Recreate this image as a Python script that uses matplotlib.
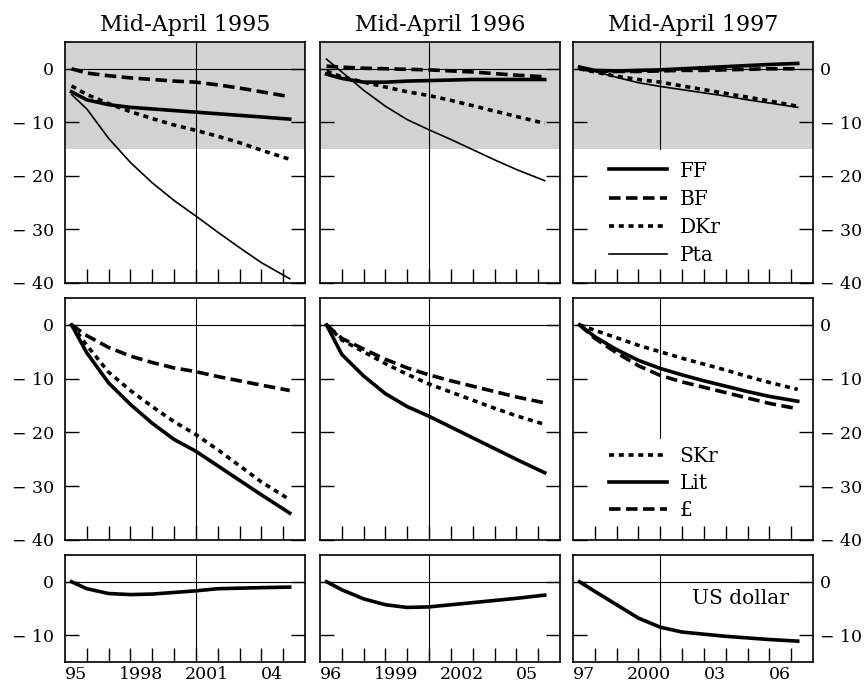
import numpy as np
import matplotlib.pyplot as plt

plt.rcParams['font.family'] = ['DejaVu Serif']

# columns: start of each projection (mid-April of the year)
start_years = [1995, 1996, 1997]
col_titles = ['Mid-April 1995', 'Mid-April 1996', 'Mid-April 1997']
x_labels = [['95', '1998', '2001', '04'],
            ['96', '1999', '2002', '05'],
            ['97', '2000', '03', '06']]
# sample points, years after Jan 1 of the start year
sample_offsets = [0.3, 1, 2, 3, 4, 5, 6, 7, 8, 9, 10.3]
y_tick_values = [-40, -30, -20, -10, 0]

# top row: FF, BF, DKr, Pta
ff = [[-4.3, -5.8, -6.7, -7.2, -7.5, -7.8, -8.1, -8.4, -8.7, -9.0, -9.4],
      [-1.0, -1.8, -2.5, -2.5, -2.3, -2.2, -2.1, -2.0, -2.0, -2.0, -2.0],
      [0.3, -0.3, -0.4, -0.3, -0.2, 0.0, 0.2, 0.4, 0.6, 0.8, 1.0]]
bf = [[0.0, -0.8, -1.3, -1.7, -2.0, -2.3, -2.5, -3.0, -3.6, -4.3, -5.2],
      [0.5, 0.3, 0.1, 0.0, -0.1, -0.2, -0.4, -0.6, -0.9, -1.2, -1.5],
      [0.0, -0.4, -0.5, -0.5, -0.4, -0.3, -0.3, -0.2, -0.1, 0.0, 0.0]]
dkr = [[-3.2, -4.8, -6.5, -8.0, -9.3, -10.5, -11.5, -12.6, -13.8, -15.2, -16.9],
       [-0.5, -1.5, -2.5, -3.4, -4.3, -5.0, -5.9, -6.9, -7.9, -8.9, -10.2],
       [0.0, -0.6, -1.4, -2.0, -2.5, -3.2, -3.9, -4.6, -5.3, -6.0, -7.0]]
pta = [[-4.8, -7.5, -13.0, -17.5, -21.3, -24.6, -27.5, -30.5, -33.4, -36.2, -39.2],
       [1.8, -0.6, -4.0, -7.0, -9.5, -11.4, -13.2, -15.1, -17.0, -18.8, -20.9],
       [0.5, -0.5, -1.6, -2.6, -3.3, -3.9, -4.5, -5.1, -5.8, -6.4, -7.2]]

# middle row: SKr, Lit, pound
skr = [[0.0, -3.8, -8.8, -12.2, -15.2, -18.0, -20.4, -23.2, -26.2, -29.2, -32.5],
       [0.0, -2.8, -5.0, -7.2, -9.2, -11.0, -12.5, -14.0, -15.5, -16.9, -18.5],
       [0.0, -1.0, -2.4, -3.8, -5.0, -6.2, -7.3, -8.4, -9.6, -10.7, -12.0]]
lit = [[0.0, -5.2, -10.8, -14.8, -18.3, -21.3, -23.5, -26.2, -28.9, -31.6, -35.0],
       [0.0, -5.5, -9.5, -12.8, -15.2, -17.0, -19.0, -21.0, -23.0, -25.0, -27.5],
       [0.0, -2.2, -4.6, -6.6, -8.1, -9.3, -10.4, -11.4, -12.4, -13.3, -14.2]]
gbp = [[0.0, -2.0, -4.2, -5.8, -7.0, -8.0, -8.7, -9.6, -10.4, -11.2, -12.2],
       [0.0, -2.5, -4.5, -6.4, -8.0, -9.3, -10.4, -11.4, -12.4, -13.4, -14.5],
       [0.0, -2.5, -5.2, -7.6, -9.4, -10.6, -11.6, -12.6, -13.6, -14.6, -15.6]]

# bottom row: US dollar
usd = [[0.0, -1.3, -2.2, -2.4, -2.3, -2.0, -1.7, -1.3, -1.2, -1.1, -1.0],
       [0.0, -1.5, -3.2, -4.3, -4.8, -4.7, -4.3, -3.9, -3.5, -3.1, -2.5],
       [0.0, -1.8, -4.3, -6.8, -8.5, -9.4, -9.8, -10.2, -10.5, -10.8, -11.1]]

THICK = 2.6
DASH = (0, (3.2, 1.5))
DOT = (0, (1.4, 1.3))

fig = plt.figure(figsize=(8.68, 6.88), dpi=100)
W, H = 868, 688
col_left = [65, 320, 573]
col_w = 240
rows = [(42, 283, -40), (298, 540, -40), (555, 662, -15)]

axes = {}
for r, (top, bot, ylo) in enumerate(rows):
    for c in range(3):
        ax = fig.add_axes([col_left[c] / W, (H - bot) / H, col_w / W, (bot - top) / H])
        s = start_years[c]
        ax.set_xlim(s, s + 11)
        ax.set_ylim(ylo, 5)
        for sp in ax.spines.values():
            sp.set_linewidth(1.2)
        ax.axhline(0, color='k', lw=0.8, zorder=1)
        ax.set_xticks([s + 0.5, s + 3.5, s + 6.5, s + 9.5])
        ax.set_xticks(np.arange(s + 1, s + 11), minor=True)
        if r == 2:
            ax.set_xticklabels(x_labels[c])
        else:
            ax.set_xticklabels([])
        ax.tick_params(axis='x', which='major', length=0, pad=3, labelsize=12.5)
        ax.tick_params(axis='x', which='minor', direction='in', length=10, width=1.0)
        yt = [v for v in y_tick_values if v >= ylo]
        ax.set_yticks(yt)
        ax.set_yticklabels(['0' if v == 0 else '\u2212 %d' % -v for v in yt])
        ax.tick_params(axis='y', direction='in', length=10, width=1.0, left=True, right=True,
                       labelleft=(c == 0), labelright=(c == 2),
                       pad=(5 if c == 2 else 8), labelsize=12.5)
        if r == 0:
            ax.axhspan(-15, 5, color='#d2d2d2', lw=0, zorder=0)
            ax.set_title(col_titles[c], fontsize=16, pad=8)
        axes[r, c] = ax

for c in range(3):
    x = [start_years[c] + o for o in sample_offsets]

    ax = axes[0, c]
    h1, = ax.plot(x, ff[c], color='k', lw=THICK, label='FF')
    h2, = ax.plot(x, bf[c], color='k', lw=THICK, ls=DASH, label='BF')
    h3, = ax.plot(x, dkr[c], color='k', lw=THICK, ls=DOT, label='DKr')
    h4, = ax.plot(x, pta[c], color='k', lw=1.2, label='Pta')
    ax.axvline(2001, ymin=(0.555 if c == 2 else 0), color='k', lw=0.8, zorder=1)
    if c == 2:
        ax.legend(handles=[h1, h2, h3, h4], loc='center left', bbox_to_anchor=(0.15, 0.29),
                  frameon=False, fontsize=14.5, handlelength=2.9, handletextpad=0.6,
                  labelspacing=0.45, borderpad=0, borderaxespad=0)

    ax = axes[1, c]
    g1, = ax.plot(x, skr[c], color='k', lw=THICK, ls=DOT, label='SKr')
    g2, = ax.plot(x, lit[c], color='k', lw=THICK, label='Lit')
    g3, = ax.plot(x, gbp[c], color='k', lw=THICK, ls=DASH, label='£')
    ax.axvline(2001, ymin=(0.42 if c == 2 else 0), color='k', lw=0.8, zorder=1)
    if c == 2:
        ax.legend(handles=[g1, g2, g3], loc='center left', bbox_to_anchor=(0.15, 0.233),
                  frameon=False, fontsize=14.5, handlelength=2.9, handletextpad=0.6,
                  labelspacing=0.38, borderpad=0, borderaxespad=0)

    ax = axes[2, c]
    ax.plot(x, usd[c], color='k', lw=THICK)
    ax.axvline(2001, color='k', lw=0.8, zorder=1)
    if c == 2:
        ax.text(2004.7, -3.2, 'US dollar', ha='center', va='center', fontsize=14.5)

fig.savefig('out.png', dpi=100)
